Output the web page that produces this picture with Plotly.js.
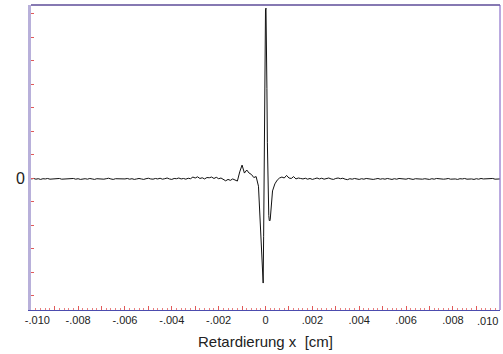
<!DOCTYPE html>
<html>
<head>
<meta charset="utf-8">
<script src="https://cdn.plot.ly/plotly-3.0.1.min.js"></script>
<style>html,body{margin:0;padding:0;background:#fff;}#chart{width:503px;height:354px;}</style>
</head>
<body>
<div id="chart"></div>
<script>
// Interferogram: signal vs retardation x [cm]
// Left wing: x from -0.0100 to -0.0003, step 0.0001 (98 values)
var leftX0 = -0.0100, leftDx = 0.0001;
var leftY = [
  -0.004,-0.002,-0.005,-0.003,-0.006,-0.003,-0.004,-0.002,-0.005,-0.004, // -0.0100..-0.0091
  -0.006,-0.003,-0.002,-0.005,-0.004,-0.006,-0.003,-0.004,-0.002,-0.005, // -0.0090..-0.0081
  -0.003,-0.006,-0.004,-0.003,-0.005,-0.002,-0.004,-0.006,-0.003,-0.004, // -0.0080..-0.0071
  -0.002,-0.005,-0.003,-0.001,-0.004,-0.006,-0.003,-0.004,-0.002,-0.005, // -0.0070..-0.0061
  -0.004,-0.002,-0.005,-0.003,-0.006,-0.004,-0.002,-0.004,-0.006,-0.003, // -0.0060..-0.0051
  -0.001,-0.004,-0.005,-0.002,-0.004,-0.001,-0.005,-0.003, 0.000,-0.004, // -0.0050..-0.0041
  -0.006,-0.002,-0.003, 0.000,-0.004,-0.002,-0.005,-0.001,-0.003, 0.004, // -0.0040..-0.0031
   0.000, 0.005,-0.002, 0.001,-0.004, 0.002, 0.001, 0.004,-0.002, 0.003, // -0.0030..-0.0021
  -0.003, 0.000,-0.006,-0.012,-0.006,-0.010,-0.004,-0.008,-0.013, 0.026, // -0.0020..-0.0011
   0.055, 0.021, 0.034, 0.021, 0.015, 0.002, 0.006,-0.035                // -0.0010..-0.0003
];
// Centre burst: x from -0.0003 to 0.0003, step 0.00002 (31 values)
var centerX0 = -0.0003, centerDx = 0.00002;
var centerY = [
  -0.035,-0.080,-0.130,-0.175,-0.220,-0.260,-0.300,-0.345,-0.395,-0.435, // -0.00030..-0.00012
  -0.447,-0.250, 0.050, 0.350, 0.600, 0.715, 0.723, 0.600, 0.380, 0.150, // -0.00010.. 0.00008
  -0.020,-0.110,-0.160,-0.180,-0.183,-0.178,-0.150,-0.120,-0.095,-0.070, //  0.00010.. 0.00028
  -0.055                                                                 //  0.00030
];
// Right wing: x from 0.0003 to 0.0100, step 0.0001 (98 values)
var rightX0 = 0.0003, rightDx = 0.0001;
var rightY = [
  -0.055,-0.025,-0.009, 0.000, 0.004, 0.000, 0.011, 0.000,-0.002, 0.006, // 0.0003..0.0012
  -0.004, 0.000,-0.002,-0.004,-0.001,-0.005,-0.002,-0.006,-0.003, 0.000, // 0.0013..0.0022
  -0.004,-0.001,-0.005,-0.002, 0.000,-0.004,-0.006,-0.002, 0.000,-0.003, // 0.0023..0.0032
  -0.001,-0.005,-0.007,-0.003,-0.005,-0.002,-0.004,-0.006,-0.003,-0.005, // 0.0033..0.0042
  -0.002,-0.004,-0.003,-0.006,-0.004,-0.002,-0.005,-0.003,-0.005,-0.002, // 0.0043..0.0052
  -0.004,-0.006,-0.003,-0.005,-0.002,-0.004,-0.003,-0.005,-0.002,-0.004, // 0.0053..0.0062
  -0.006,-0.003,-0.004,-0.002,-0.005,-0.003,-0.004,-0.006,-0.003,-0.005, // 0.0063..0.0072
  -0.002,-0.004,-0.003,-0.005,-0.004,-0.002,-0.005,-0.003,-0.004,-0.006, // 0.0073..0.0082
  -0.003,-0.004,-0.002,-0.005,-0.003,-0.004,-0.006,-0.003,-0.005,-0.002, // 0.0083..0.0092
  -0.004,-0.003,-0.005,-0.004,-0.002,-0.005,-0.003,-0.004                // 0.0093..0.0100
];

var NB = '\u00a0';
var xTickVals = [-0.010,-0.009,-0.008,-0.007,-0.006,-0.005,-0.004,-0.003,-0.002,-0.001,0,
                 0.001,0.002,0.003,0.004,0.005,0.006,0.007,0.008,0.009,0.010];
var xTickText = [NB+NB+NB+NB+"-.010","","-.008","","-.006","","-.004","","-.002","","0",
                 "",".002","",".004","",".006","",".008","",""];
var lastTickValue = 0.010, lastTickLabel = ".010";
var yTickVals = [-0.5,-0.4,-0.3,-0.2,-0.1,0,0.1,0.2,0.3,0.4,0.5,0.6,0.7];
var yTickText = ["","","","","","0","","","","","","",""];

var lineStyle = {color:'#111111', width:1};
var traces = [
  {type:'scatter', mode:'lines', x0:leftX0, dx:leftDx, y:leftY, line:lineStyle, hoverinfo:'skip'},
  {type:'scatter', mode:'lines', x0:centerX0, dx:centerDx, y:centerY, line:lineStyle, hoverinfo:'skip'},
  {type:'scatter', mode:'lines', x0:rightX0, dx:rightDx, y:rightY, line:lineStyle, hoverinfo:'skip'}
];

var layout = {
  width:503, height:354,
  margin:{l:31, r:3, t:5, b:44},
  paper_bgcolor:'#ffffff', plot_bgcolor:'#ffffff',
  showlegend:false,
  font:{family:'"Liberation Sans", Arial, sans-serif', color:'#222222'},
  xaxis:{
    range:[-0.01001, 0.01001],
    tickmode:'array', tickvals:xTickVals, ticktext:xTickText,
    ticks:'inside', ticklen:4, tickcolor:'#e05a5a', tickwidth:1,
    minor:{tickmode:'linear', tick0:0, dtick:0.0002, ticks:'inside', ticklen:2, tickcolor:'#e88080', showgrid:false},
    tickfont:{size:11, color:'#222222'},
    showline:true, linecolor:'#4c4cae', linewidth:1,
    showgrid:false, zeroline:false,
    title:{text:'Retardierung x\u00a0\u00a0[cm]', font:{size:15, color:'#222222'}, standoff:11}
  },
  yaxis:{
    range:[-0.5617, 0.7362],
    tickmode:'array', tickvals:yTickVals, ticktext:yTickText,
    ticks:'inside', ticklen:3, tickcolor:'#e05a5a', tickwidth:1,
    tickfont:{size:16, color:'#222222'},
    showline:true, linecolor:'#b8b0da', linewidth:3,
    showgrid:false, zeroline:false
  },
  annotations:[
    {xref:'x', yref:'paper', x:lastTickValue, y:0, xanchor:'right', yanchor:'top',
     yshift:-3, text:lastTickLabel, showarrow:false, font:{size:11, color:'#222222'}}
  ],
  shapes:[
    {type:'line', xref:'paper', yref:'paper', x0:0, x1:1, y0:1, y1:1, line:{color:'#5e4c98', width:1.5}},
    {type:'line', xref:'paper', yref:'paper', x0:1, x1:1, y0:0, y1:1, line:{color:'#7454c0', width:1}}
  ]
};

Plotly.newPlot('chart', traces, layout, {staticPlot:true, displayModeBar:false});
</script>
</body>
</html>
